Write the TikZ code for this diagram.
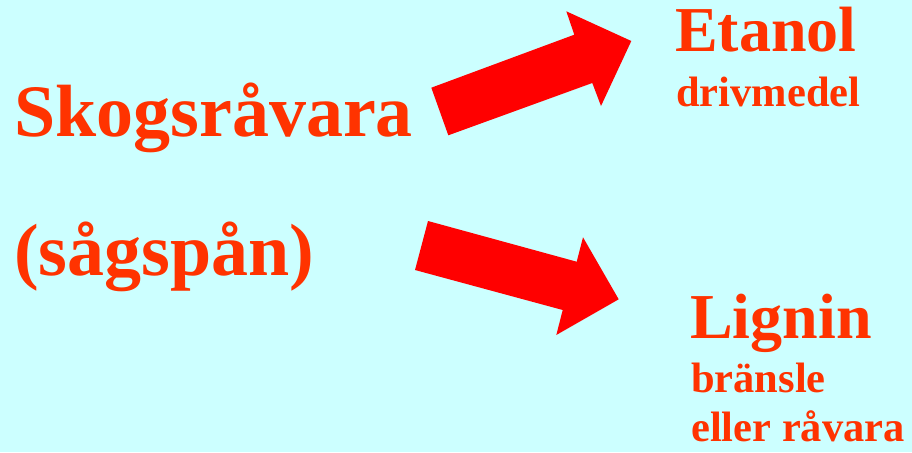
\documentclass[tikz,border=0pt]{standalone}
\usepackage{fontspec}
\setmainfont{Liberation Serif}
\definecolor{bg}{HTML}{CCFFFF}
\definecolor{txt}{HTML}{FF3300}
\definecolor{arr}{HTML}{FF0000}
\begin{document}
\begin{tikzpicture}[x=1pt,y=-1pt,
  lbl/.style={anchor=base west,inner sep=0pt,text=txt,font=\bfseries},
  big/.style={lbl,font=\fontsize{74}{80}\selectfont\bfseries},
  mid/.style={lbl,font=\fontsize{64}{70}\selectfont\bfseries},
  small/.style={lbl,font=\fontsize{42.5}{51.7}\selectfont\bfseries},
  blockarrow/.style={fill=arr,draw=none}]
\fill[bg] (0,0) rectangle (912,452);
\useasboundingbox (0,0) rectangle (912,452);
\node[big] (src1) at (14,136.7) {Skogsråvara};
\node[big] (src2) at (14,275) {(sågspån)};
\node[mid] (et) at (675,51.7) {Etanol};
\node[small] (etsub) at (676,106.7) {drivmedel};
\node[mid] (lig) at (690,338.3) {Lignin};
\node[small] (lig1) at (691,392.5) {bränsle};
\node[small,text depth=0pt] (lig2) at (691,441) {eller råvara};
\fill[blockarrow] (431.3,87.7) -- (574.3,34.7) -- (566.3,11.3) -- (631.3,41) -- (601,106) -- (592.3,83) -- (448.3,135.3) -- cycle;
\fill[blockarrow] (428,221) -- (576.7,261.7) -- (583,237.3) -- (618.7,299.3) -- (556.3,335) -- (562.7,310) -- (415,270) -- cycle;
\end{tikzpicture}
\end{document}
